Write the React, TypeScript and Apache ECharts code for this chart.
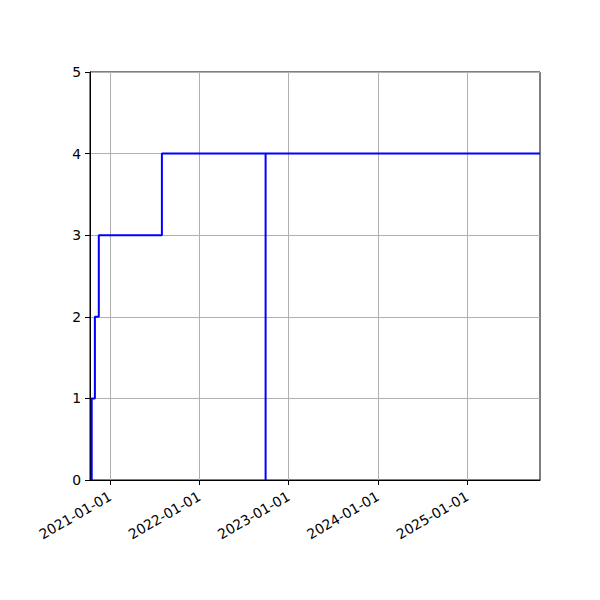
import React, { useEffect, useRef } from "react";
import * as echarts from "echarts";

const stepDates = [
  "2020-10-18",
  "2020-10-18",
  "2020-10-31",
  "2020-11-16",
  "2021-08-01",
  "2022-09-29",
  "2022-09-29",
  "2025-10-25",
];
const stepValues = [0, 1, 2, 3, 4, 0, 4, 4];
const yearTicks = ["2021-01-01", "2022-01-01", "2023-01-01", "2024-01-01", "2025-01-01"];
const xMin = "2020-10-11";
const xMax = "2025-10-25";

const t = (s: string) => Date.UTC(+s.slice(0, 4), +s.slice(5, 7) - 1, +s.slice(8, 10));

export default function App() {
  const ref = useRef<HTMLDivElement>(null);
  useEffect(() => {
    if (!ref.current) return;
    const chart = echarts.init(ref.current, null, { renderer: "svg" });
    const font = "DejaVu Sans";
    const tickVals = yearTicks.map(t);
    chart.setOption({
      animation: false,
      backgroundColor: "#ffffff",
      grid: {
        left: 90,
        right: 60,
        top: 72,
        bottom: 120,
        show: true,
        borderColor: "#000",
        borderWidth: 1,
        backgroundColor: "transparent",
      },
      xAxis: {
        type: "value",
        min: t(xMin),
        max: t(xMax),
        axisLine: { show: true, lineStyle: { color: "#000", width: 1 } },
        axisTick: {
          show: true,
          inside: false,
          length: 5,
          customValues: tickVals,
          lineStyle: { color: "#000", width: 1 },
        },
        axisLabel: {
          customValues: tickVals,
          rotate: 30,
          margin: 15,
          color: "#000",
          fontFamily: font,
          fontSize: 13.9,
          formatter: (v: number) => {
            const d = new Date(v);
            const p = (n: number) => String(n).padStart(2, "0");
            return `${d.getUTCFullYear()}-${p(d.getUTCMonth() + 1)}-${p(d.getUTCDate())}`;
          },
        },
        splitLine: { show: false },
      },
      yAxis: {
        type: "value",
        min: 0,
        max: 5,
        interval: 1,
        axisLine: { show: true, lineStyle: { color: "#000", width: 1 } },
        axisTick: { show: true, inside: false, length: 5, lineStyle: { color: "#000", width: 1 } },
        axisLabel: { color: "#000", fontFamily: font, fontSize: 13.9, margin: 9 },
        splitLine: { show: true, lineStyle: { color: "#b0b0b0", width: 1 } },
      },
      series: [
        {
          type: "line",
          step: "end",
          symbol: "none",
          z: 3,
          lineStyle: { color: "#0000ff", width: 2 },
          data: stepDates.map((d, i) => [t(d), stepValues[i]]),
          markLine: {
            silent: true,
            symbol: "none",
            z: 1,
            label: { show: false },
            lineStyle: { color: "#b0b0b0", width: 1, type: "solid" },
            data: yearTicks.map((d) => ({ xAxis: t(d) })),
          },
        },
      ],
    });
    return () => chart.dispose();
  }, []);
  return (
    <div
      ref={ref}
      style={{ position: "fixed", left: 0, top: 0, width: 600, height: 600, background: "#fff" }}
    />
  );
}
